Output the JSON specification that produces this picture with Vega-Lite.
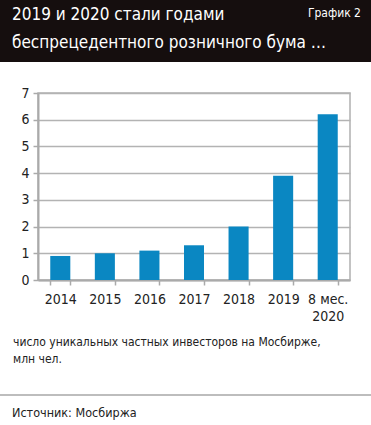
{
  "$schema": "https://vega.github.io/schema/vega-lite/v6.json",
  "padding": 0,
  "background": "white",
  "config": {
    "font": "DejaVu Sans Condensed, sans-serif",
    "view": {"stroke": null},
    "title": {"font": "DejaVu Sans Condensed, sans-serif", "fontWeight": "normal", "color": "#222222"}
  },
  "columns": 1,
  "spacing": 23,
  "align": "none",
  "concat": [
    {
      "width": 371,
      "height": 62,
      "view": {"fill": "#150e0e", "stroke": null},
      "layer": [
        {
          "data": {"values": [{"t": "2019 и 2020 стали годами\nбеспрецедентного розничного бума …"}]},
          "mark": {"type": "text", "align": "left", "baseline": "top", "lineBreak": "\n", "lineHeight": 28, "fontSize": 17, "color": "white", "dx": 12, "dy": 7},
          "encoding": {
            "text": {"field": "t"},
            "x": {"datum": 0, "type": "quantitative", "scale": {"domain": [0, 1]}, "axis": null},
            "y": {"datum": 1, "type": "quantitative", "scale": {"domain": [0, 1]}, "axis": null}
          }
        },
        {
          "data": {"values": [{"t": "График 2"}]},
          "mark": {"type": "text", "align": "right", "baseline": "top", "fontSize": 12, "color": "white", "dx": -10, "dy": 8},
          "encoding": {
            "text": {"field": "t"},
            "x": {"datum": 1, "type": "quantitative", "scale": {"domain": [0, 1]}, "axis": null},
            "y": {"datum": 1, "type": "quantitative", "scale": {"domain": [0, 1]}, "axis": null}
          }
        }
      ]
    },
    {
      "columns": 1,
      "spacing": 23,
      "align": "none",
      "concat": [
        {
          "spacing": 0,
          "hconcat": [
            {
              "width": 1,
              "height": 1,
              "data": {"values": [{}]},
              "mark": {"type": "text", "text": ""},
              "encoding": {}
            },
            {
              "width": 312,
              "height": 187,
              "view": {"stroke": "#b0b0b0", "strokeWidth": 1.5},
              "data": {"values": [
                {"period": "2014", "value": 0.9},
                {"period": "2015", "value": 1.0},
                {"period": "2016", "value": 1.1},
                {"period": "2017", "value": 1.3},
                {"period": "2018", "value": 2.0},
                {"period": "2019", "value": 3.9},
                {"period": "8 мес. 2020", "value": 6.2}
              ]},
              "mark": {"type": "bar", "color": "#0a87c2"},
              "encoding": {
                "x": {
                  "field": "period", "type": "nominal", "sort": null,
                  "scale": {"paddingInner": 0.55, "paddingOuter": 0.275},
                  "axis": {
                    "title": null, "labelAngle": 0, "tickBand": "extent",
                    "labelExpr": "datum.value == '8 мес. 2020' ? ['8 мес.', '2020'] : datum.label",
                    "labelFontSize": 14, "labelColor": "#222222", "labelPadding": 7, "labelLineHeight": 17,
                    "domainColor": "#aaaaaa", "domainWidth": 2, "tickColor": "#aaaaaa", "tickWidth": 1.5, "tickSize": 5
                  }
                },
                "y": {
                  "field": "value", "type": "quantitative",
                  "scale": {"domain": [0, 7]},
                  "axis": {
                    "title": null, "values": [0, 1, 2, 3, 4, 5, 6, 7], "minExtent": 36,
                    "labelFontSize": 14, "labelColor": "#222222", "labelPadding": 4,
                    "gridColor": "#b3b3b3", "gridWidth": 1.5,
                    "domainColor": "#aaaaaa", "domainWidth": 2, "tickColor": "#aaaaaa", "tickWidth": 1.5, "tickSize": 5
                  }
                }
              },
              "title": {
                "text": ["число уникальных частных инвесторов на Мосбирже,", "млн чел."],
                "orient": "bottom", "anchor": "start", "frame": "group", "dx": -25, "offset": 14,
                "fontSize": 12, "lineHeight": 17
              }
            }
          ]
        },
        {
          "width": 371,
          "height": 2,
          "view": {"fill": "#bdbdbd", "stroke": null},
          "data": {"values": [{}]},
          "mark": {"type": "text", "text": ""},
          "encoding": {},
          "title": {
            "text": "Источник: Мосбиржа",
            "orient": "bottom", "anchor": "start", "frame": "group", "dx": 12, "offset": 7,
            "fontSize": 12.5
          }
        }
      ]
    }
  ]
}
